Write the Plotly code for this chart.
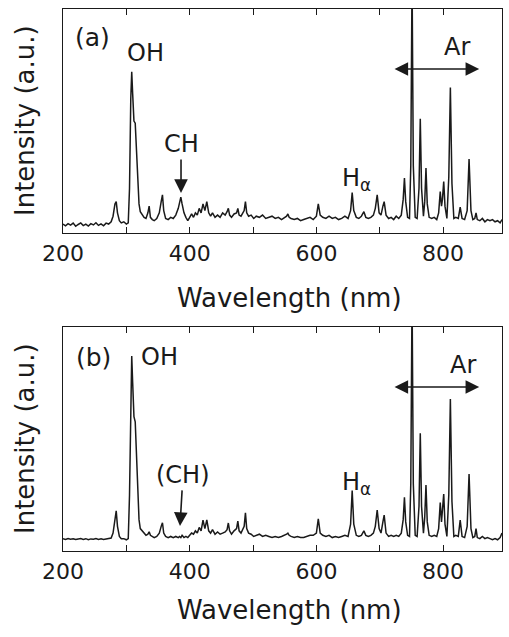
import plotly.graph_objects as go

# Emission spectra of the plasma, (a) and (b); shared wavelength grid (nm)
wavelength = [
    200, 204, 208, 212, 216, 220, 224, 228, 232, 236, 240, 244, 248, 252, 256, 260,
    264, 268, 272, 276, 279, 282, 284, 286, 289, 292, 296, 300, 303, 305, 307, 308.5,
    310, 312, 314, 316, 318, 320, 322, 325, 328, 331, 334, 336, 338, 341, 344, 348,
    352, 355, 357, 359, 362, 366, 370, 374, 378, 382, 384, 386, 388, 391, 394, 397,
    400, 403, 406, 409, 412, 415, 418, 421, 424, 427, 430, 433, 436, 440, 444, 448,
    452, 456, 459, 461, 463, 466, 470, 474, 476, 478, 481, 484, 486, 488, 490, 493,
    497, 501, 505, 510, 515, 520, 525, 530, 535, 540, 545, 550, 553, 555, 557, 560,
    565, 570, 575, 580, 585, 590, 595, 600, 603, 606, 610, 615, 620, 625, 630, 635,
    640, 645, 650, 654, 656.5, 659, 663, 667, 671, 675, 678, 682, 686, 690, 693, 696,
    699, 702, 705, 707, 710, 714, 718, 722, 726, 730, 734, 737, 739, 741, 744, 747,
    749, 751, 753, 756, 759, 762, 764, 766, 769, 771, 773, 775, 778, 782, 786, 790,
    793, 795.5, 797.5, 799, 801, 803, 806, 809, 811.5, 814, 817, 820, 824, 827, 830, 834,
    838, 841, 844, 847, 850, 852, 854, 858, 862, 866, 870, 874, 878, 882, 886, 890,
    893,
]

intensity_a = [
    4.0, 3.2, 4.2, 3.5, 4.4, 3.0, 3.8, 4.5, 3.3, 4.0, 3.1, 4.2, 3.6, 4.6, 3.4, 4.1,
    3.2, 4.4, 4.0, 5.0, 7.5, 13, 14, 9, 5.5, 4.5, 5.0, 4.0, 4.5, 20, 60, 72,
    62, 50, 49, 38, 22, 13, 9.5, 8, 7, 6.5, 9, 12, 7, 6, 5.5, 6.5,
    9, 14, 17, 10, 6.5, 6, 7, 6.5, 8, 11, 14, 16, 13, 9, 7, 5.5,
    7, 8.5, 7, 9, 8, 11, 9, 13, 10, 14, 9, 7.5, 9, 7, 8, 7,
    9, 8, 9.5, 11, 8, 7, 8.5, 9, 11, 8, 7.5, 9, 10, 14, 9, 7.5,
    8, 6.5, 7.5, 7, 8, 6.5, 7, 7.5, 6.5, 7, 6, 7, 7.5, 8.5, 7, 6.5,
    6, 6.5, 5.5, 6, 6.5, 7, 6, 7.5, 13, 8, 7, 6.5, 7.5, 6.5, 7, 6,
    6.5, 7.5, 6.5, 10, 18, 10, 7, 6.5, 7.5, 9.5, 7, 6.5, 7, 8, 11, 17,
    9, 8, 12, 14, 8, 6.5, 7, 6, 7.5, 6.5, 8, 15, 24.5, 14, 7, 6.5,
    30, 115, 30, 7, 6.5, 20, 51, 20, 7.5, 14, 29, 13, 7, 6.5, 7, 6,
    9, 18.5, 12, 15, 23, 12, 6.5, 25, 65, 22, 6.5, 7, 6.5, 11.5, 6.5, 6,
    10, 33, 10, 6, 6.5, 9, 6, 5.5, 6.5, 5, 6, 5.5, 6, 5, 5.5, 4.5,
    6,
]

intensity_b = [
    5.5, 5.2, 5.6, 5.3, 5.5, 5.1, 5.4, 5.6, 5.2, 5.5, 5.0, 5.4, 5.3, 5.6, 5.2, 5.5,
    5.1, 5.4, 5.5, 5.8, 8, 15, 17.9, 11, 6.5, 5.5, 5.5, 5, 5.5, 25, 75, 87,
    75, 60, 57.7, 45, 26, 14, 10, 9, 7.5, 7, 7.5, 8.6, 7, 6.5, 6, 6.5,
    8, 11, 12.6, 8, 6.5, 6, 6.5, 6, 6.5, 6, 6.5, 6, 7, 6, 6.5, 6,
    7, 8, 7.5, 9, 8, 10.5, 9, 13.8, 10, 13.9, 9, 8, 9.5, 7.5, 8.5, 7.5,
    8, 8.5, 9.5, 12.5, 9, 7.5, 9, 10, 13.3, 9, 8, 10, 11, 17, 10, 8,
    7.5, 6.5, 7, 7.5, 6.5, 7, 6.5, 6, 6.5, 6, 6.5, 7, 7.5, 8, 7, 6.5,
    6, 6.5, 6, 6, 6.5, 7, 7, 8, 14.3, 8, 7, 6.5, 7, 6, 6.5, 6,
    6.5, 7, 6.5, 12, 27, 12, 7, 6.5, 7, 9, 7, 6.5, 7, 8, 11, 18.3,
    10, 8, 13, 16, 8, 6.5, 7, 6.5, 7, 6.5, 8, 14, 24, 13, 7, 6.5,
    30, 115, 30, 7, 6.5, 20, 52.6, 20, 8, 15, 29.5, 13, 7, 6.5, 7, 6.5,
    10, 21.6, 13, 17, 25.4, 12, 6.5, 25, 67.8, 22, 6.5, 7, 6.5, 13.8, 6.5, 6,
    11, 34.4, 10, 6, 6.5, 10, 6, 5.5, 6.5, 5.5, 6, 5.5, 5, 5.5, 5, 6,
    8,
]

major_ticks = [200, 400, 600, 800]
minor_step = 100

FONT = "DejaVu Sans, Verdana, sans-serif"
INK = "#1a1a1a"

fig = go.Figure()
fig.add_trace(go.Scatter(x=wavelength, y=intensity_a, mode="lines",
                         line=dict(color=INK, width=1.5), xaxis="x", yaxis="y",
                         showlegend=False))
fig.add_trace(go.Scatter(x=wavelength, y=intensity_b, mode="lines",
                         line=dict(color=INK, width=1.5), xaxis="x2", yaxis="y2",
                         showlegend=False))

xaxis_style = dict(
    range=[200, 893], tickmode="array", tickvals=major_ticks,
    ticks="inside", ticklen=6, tickwidth=1.2, tickcolor=INK,
    minor=dict(ticks="inside", dtick=minor_step, tick0=200, ticklen=6,
               tickwidth=1.2, tickcolor=INK, showgrid=False),
    showline=True, linecolor=INK, linewidth=1.4, mirror="ticks",
    showgrid=False, zeroline=False,
    tickfont=dict(family=FONT, size=22, color=INK),
)
yaxis_style = dict(
    range=[0, 100], showticklabels=False, ticks="",
    showline=True, linecolor=INK, linewidth=1.4, mirror=True,
    showgrid=False, zeroline=False,
)

fig.update_layout(
    width=509, height=637,
    margin=dict(l=63, r=7, t=9, b=86),
    paper_bgcolor="white", plot_bgcolor="white",
    xaxis=dict(domain=[0, 1], anchor="y", **xaxis_style),
    yaxis=dict(domain=[0.5867, 1.0], anchor="x", **yaxis_style),
    xaxis2=dict(domain=[0, 1], anchor="y2", **xaxis_style),
    yaxis2=dict(domain=[0.0, 0.4133], anchor="x2", **yaxis_style),
    font=dict(family=FONT, color=INK),
)

ann = []
label_font = dict(family=FONT, size=24, color=INK)
ARROW = dict(arrowhead=2, arrowsize=1.7, arrowwidth=1.6, arrowcolor=INK)


def panel_labels(xr, yr, tag, tag_xy, oh_xy, ch_text, ch_head, ch_offset,
                 ha_xy, ar_xy, arrow_y):
    ann.append(dict(x=tag_xy[0], y=tag_xy[1], xref=xr, yref=yr,
                    text=tag, showarrow=False, font=dict(label_font, size=25)))
    ann.append(dict(x=oh_xy[0], y=oh_xy[1], xref=xr, yref=yr, text="OH",
                    showarrow=False, font=label_font))
    # label with a downward arrow pointing at the CH band
    ann.append(dict(x=ch_head[0], y=ch_head[1], xref=xr, yref=yr, text=ch_text,
                    showarrow=True, ax=ch_offset[0], ay=ch_offset[1],
                    font=label_font, **ARROW))
    ann.append(dict(x=ha_xy[0], y=ha_xy[1], xref=xr, yref=yr, xanchor="left",
                    text="H<sub>α</sub>", showarrow=False, font=label_font))
    ann.append(dict(x=ar_xy[0], y=ar_xy[1], xref=xr, yref=yr, text="Ar",
                    showarrow=False, font=label_font))
    # two-headed arrow spanning the Ar lines
    ann.append(dict(x=857, y=arrow_y, ax=721, ay=arrow_y, xref=xr, yref=yr,
                    axref=xr, ayref=yr, text="", showarrow=True,
                    arrowside="end+start", **ARROW))


panel_labels("x", "y", "(a)", (245.8, 87.5), (329.5, 80.4), "CH",
             (386.3, 17.9), (0, -49), (637.4, 24.0), (822, 83), 73.2)
panel_labels("x2", "y2", "(b)", (247.4, 86.6), (353, 86.6), "(CH)",
             (384.7, 11.2), (3, -51), (637.4, 30.0), (831.6, 83), 73.2)

# axis titles
title_font = dict(family=FONT, size=26, color=INK)
for y_mid in [(0.5867 + 1.0) / 2, 0.4133 / 2]:
    ann.append(dict(xref="paper", yref="paper", x=0, xshift=-38, y=y_mid,
                    text="Intensity (a.u.)", textangle=-90, showarrow=False,
                    font=title_font, xanchor="center", yanchor="middle"))
for y_base, shift in [(0.5867, -65), (0.0, -59)]:
    ann.append(dict(xref="paper", yref="paper", x=0.5, xshift=7, y=y_base,
                    yshift=shift, text="Wavelength (nm)", showarrow=False,
                    font=title_font, xanchor="center", yanchor="middle"))

fig.update_layout(annotations=ann)
fig.write_html("out.html")
